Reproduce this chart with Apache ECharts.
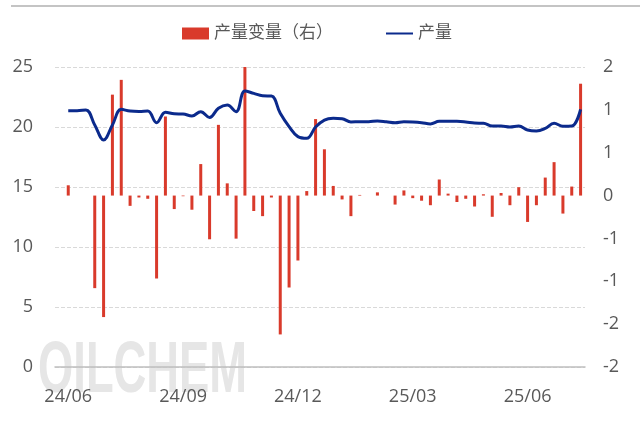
<!DOCTYPE html>
<html>
<head>
<meta charset="utf-8">
<script src="https://cdn.jsdelivr.net/npm/echarts@6/dist/echarts.min.js"></script>
<style>
  html, body { margin: 0; padding: 0; background: #fff; }
  #chart { width: 640px; height: 423px; }
</style>
</head>
<body>
<div id="chart"></div>
<script>
// weekly dates (first category has no data)
const dates = [
  '2024-05-30', '2024-06-06', '2024-06-13', '2024-06-20', '2024-06-27', '2024-07-04', '2024-07-11', '2024-07-18',
  '2024-07-25', '2024-08-01', '2024-08-08', '2024-08-15', '2024-08-22', '2024-08-29', '2024-09-05', '2024-09-12',
  '2024-09-19', '2024-09-26', '2024-10-03', '2024-10-10', '2024-10-17', '2024-10-24', '2024-10-31', '2024-11-07',
  '2024-11-14', '2024-11-21', '2024-11-28', '2024-12-05', '2024-12-12', '2024-12-19', '2024-12-26', '2025-01-02',
  '2025-01-09', '2025-01-16', '2025-01-23', '2025-01-30', '2025-02-06', '2025-02-13', '2025-02-20', '2025-02-27',
  '2025-03-06', '2025-03-13', '2025-03-20', '2025-03-27', '2025-04-03', '2025-04-10', '2025-04-17', '2025-04-24',
  '2025-05-01', '2025-05-08', '2025-05-15', '2025-05-22', '2025-05-29', '2025-06-05', '2025-06-12', '2025-06-19',
  '2025-06-26', '2025-07-03', '2025-07-10', '2025-07-17'
];

// 产量变量（右）
const changeData = [
  null, 0.16, 0, 0, -1.44, -1.89, 1.57, 1.80, -0.16, -0.03,
  -0.05, -1.29, 1.23, -0.21, -0.01, -0.22, 0.49, -0.68, 1.10, 0.19,
  -0.67, 2.0, -0.24, -0.32, -0.03, -2.16, -1.43, -1.01, 0.07, 1.19,
  0.72, 0.15, -0.06, -0.32, 0.01, 0, 0.05, 0, -0.14, 0.08,
  -0.04, -0.08, -0.15, 0.25, 0.03, -0.10, -0.05, -0.17, 0.02, -0.33,
  0.04, -0.15, 0.13, -0.41, -0.15, 0.28, 0.52, -0.28, 0.14, 1.74
];

// 产量
const outputData = [
  null, 21.36, 21.36, 21.42, 20.17, 18.92, 20.17, 21.47, 21.33, 21.3,
  21.33, 20.36, 21.22, 21.1, 21.08, 20.92, 21.28, 20.8, 21.56, 21.83,
  21.28, 23.0, 22.8, 22.6, 22.58, 21.14, 20.03, 19.2, 19.06, 20.0,
  20.58, 20.72, 20.69, 20.42, 20.44, 20.44, 20.5, 20.44, 20.36, 20.44,
  20.42, 20.36, 20.25, 20.47, 20.47, 20.47, 20.42, 20.33, 20.31, 20.08,
  20.08, 20.0, 20.08, 19.75, 19.67, 19.89, 20.31, 20.06, 20.08, 21.47
];

// right axis labels as printed, bottom to top
const rightTickLabels = ['-2', '-2', '-1', '-1', '0', '1', '1', '2'];
const quarterMonths = [3, 6, 9, 12];

const rightMin = -8 / 3;
const rightStep = 2 / 3;

const font = '"Open Sans", "Noto Sans CJK SC", sans-serif';

// show label/tick on first week of Mar/Jun/Sep/Dec
function isQuarterStart(index) {
  if (index === 0) return false;
  const m = parseInt(dates[index].slice(5, 7), 10);
  const prev = parseInt(dates[index - 1].slice(5, 7), 10);
  return m !== prev && quarterMonths.indexOf(m) >= 0;
}

let myChart = echarts.init(document.getElementById('chart'));
let option = {
  animation: false,
  textStyle: { fontFamily: font },
  graphic: [
    {
      type: 'rect',
      left: 11, top: 5,
      shape: { width: 629, height: 2 },
      style: { fill: '#c4c4c4' },
      silent: true
    },
    {
      // watermark
      type: 'text',
      left: 38, top: 336,
      z: 0,
      scaleX: 0.63,
      style: {
        text: 'OILCHEM',
        font: 'bold 72px "Liberation Sans", Arial, sans-serif',
        fill: '#e6e6e6'
      },
      silent: true
    }
  ],
  legend: {
    top: 20,
    left: 177,
    itemGap: 52,
    itemWidth: 27,
    itemHeight: 12,
    textStyle: { fontSize: 17, color: '#595959', fontFamily: font },
    data: [
      { name: '产量变量（右）', icon: 'rect' },
      { name: '产量', itemStyle: { opacity: 0 } }
    ]
  },
  grid: {
    left: 55,
    right: 55,
    top: 67,
    bottom: 56
  },
  xAxis: {
    type: 'category',
    data: dates,
    boundaryGap: true,
    axisLine: { lineStyle: { color: '#bfbfbf', width: 1.5 } },
    axisTick: {
      inside: true,
      length: 5,
      interval: isQuarterStart,
      lineStyle: { color: '#bfbfbf' }
    },
    axisLabel: {
      interval: isQuarterStart,
      color: '#595959',
      fontSize: 18,
      margin: 21,
      formatter: function (v) {
        return v.slice(2, 4) + '/' + v.slice(5, 7);
      }
    },
    splitLine: { show: false }
  },
  yAxis: [
    {
      type: 'value',
      min: 0,
      max: 25,
      interval: 5,
      axisLine: { show: false },
      axisTick: { show: false },
      axisLabel: { color: '#595959', fontSize: 18, margin: 22 },
      splitLine: {
        show: true,
        lineStyle: { color: '#d9d9d9', type: 'dashed' }
      }
    },
    {
      type: 'value',
      min: rightMin,
      max: 2,
      interval: rightStep,
      axisLine: { show: false },
      axisTick: { show: false },
      axisLabel: {
        color: '#595959',
        fontSize: 18,
        margin: 18,
        formatter: function (v) {
          return rightTickLabels[Math.round((v - rightMin) / rightStep)];
        }
      },
      splitLine: { show: false }
    }
  ],
  series: [
    {
      name: '产量变量（右）',
      type: 'bar',
      yAxisIndex: 1,
      barWidth: 3,
      data: changeData,
      itemStyle: { color: '#d93a2b' }
    },
    {
      name: '产量',
      type: 'line',
      yAxisIndex: 0,
      smooth: 0.4,
      symbol: 'none',
      data: outputData,
      itemStyle: { color: '#0b2a8c' },
      lineStyle: { width: 3, color: '#0b2a8c' }
    }
  ]
};
myChart.setOption(option);
</script>
</body>
</html>
